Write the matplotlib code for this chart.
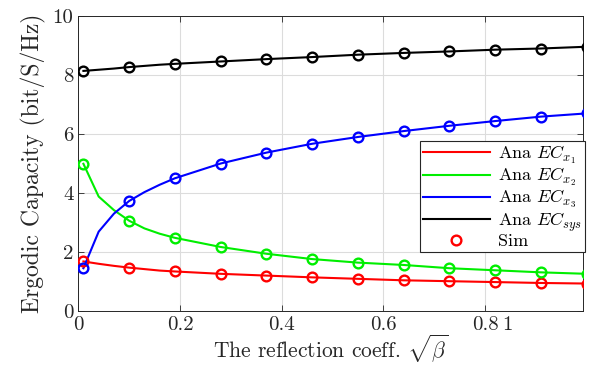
import matplotlib
matplotlib.use('Agg')
import matplotlib.pyplot as plt

plt.rcParams['font.family'] = 'serif'
plt.rcParams['font.serif'] = ['cmr10']
plt.rcParams['mathtext.fontset'] = 'cm'
plt.rcParams['axes.formatter.use_mathtext'] = True

# analytical curve samples
x_ana = [0.01, 0.04, 0.07, 0.10, 0.13, 0.16, 0.19, 0.28, 0.37, 0.46, 0.55, 0.64, 0.73, 0.82, 0.91, 1.00]
ec1_ana = [1.68, 1.60, 1.53, 1.47, 1.42, 1.37, 1.34, 1.26, 1.20, 1.14, 1.09, 1.04, 1.01, 0.98, 0.95, 0.93]
ec2_ana = [4.99, 3.88, 3.42, 3.06, 2.80, 2.62, 2.48, 2.17, 1.94, 1.76, 1.64, 1.56, 1.45, 1.38, 1.31, 1.26]
ec3_ana = [1.45, 2.69, 3.30, 3.73, 4.03, 4.28, 4.50, 5.00, 5.37, 5.67, 5.90, 6.10, 6.28, 6.44, 6.59, 6.70]
ecs_ana = [8.14, 8.18, 8.22, 8.27, 8.31, 8.35, 8.38, 8.46, 8.54, 8.61, 8.69, 8.75, 8.80, 8.86, 8.90, 8.96]

# simulation points
x_sim = [0.01, 0.10, 0.19, 0.28, 0.37, 0.46, 0.55, 0.64, 0.73, 0.82, 0.91, 1.00]
ec1_sim = [1.68, 1.47, 1.34, 1.26, 1.20, 1.14, 1.09, 1.04, 1.01, 0.98, 0.95, 0.93]
ec2_sim = [4.99, 3.06, 2.48, 2.17, 1.94, 1.76, 1.64, 1.56, 1.45, 1.38, 1.31, 1.26]
ec3_sim = [1.45, 3.73, 4.50, 5.00, 5.37, 5.67, 5.90, 6.10, 6.28, 6.44, 6.59, 6.70]
ecs_sim = [8.14, 8.27, 8.38, 8.46, 8.54, 8.61, 8.69, 8.75, 8.80, 8.86, 8.90, 8.96]

labels = [r'Ana $EC_{x_1}$', r'Ana $EC_{x_2}$', r'Ana $EC_{x_3}$', r'Ana $EC_{sys}$']
colors = ['#ff0000', '#00ee00', '#0000ff', '#000000']

fig = plt.figure(figsize=(5.89, 3.65), dpi=100)
ax = fig.add_axes([0.133, 0.148, 0.857, 0.808])

for ya, ys, c, lab in zip([ec1_ana, ec2_ana, ec3_ana, ecs_ana],
                          [ec1_sim, ec2_sim, ec3_sim, ecs_sim], colors, labels):
    ax.plot(x_ana, ya, color=c, lw=1.5, label=lab, zorder=3)
    ax.plot(x_sim, ys, ls='none', marker='o', ms=7, mfc='none', mec=c, mew=1.7, zorder=4)

# legend entry for simulation markers
ax.plot([], [], ls='none', marker='o', ms=7, mfc='none', mec='#ff0000', mew=1.7, label='Sim')

ax.set_xlim(0, 0.993)
ax.set_ylim(0, 10)
ax.set_xticks([0, 0.2, 0.4, 0.6, 0.8])
ax.set_xticklabels(['0', '0.2', '0.4', '0.6', '0.8'])
ax.set_xticks([0.845], labels=['1'], minor=True)
ax.set_yticks([0, 2, 4, 6, 8, 10])
ax.set_yticklabels(['0', '2', '4', '6', '8', '10'])
ax.tick_params(which='major', direction='in', length=4, width=0.6, labelsize=15,
               top=True, right=True, colors='#262626', pad=3.5)
ax.tick_params(which='minor', length=0, labelsize=15, colors='#262626', pad=3.5)
ax.grid(True, which='major', color='#dcdcdc', lw=0.8)
ax.set_axisbelow(True)
for s in ax.spines.values():
    s.set_color('#262626')
    s.set_linewidth(0.7)

ax.set_xlabel(r'The reflection coeff. $\sqrt{\beta}$', fontsize=15.5, color='#262626', labelpad=-1)
ax.set_ylabel('Ergodic Capacity (bit/S/Hz)', fontsize=17, color='#262626', labelpad=5)

leg = ax.legend(loc='center right', bbox_to_anchor=(1.003, 0.388), fontsize=13, fancybox=False,
                framealpha=1, edgecolor='#262626', handlelength=3.7, borderpad=0.15,
                labelspacing=0.0, handletextpad=0.45, borderaxespad=0)
leg.get_frame().set_linewidth(0.8)

fig.savefig('out.png', dpi=100)
